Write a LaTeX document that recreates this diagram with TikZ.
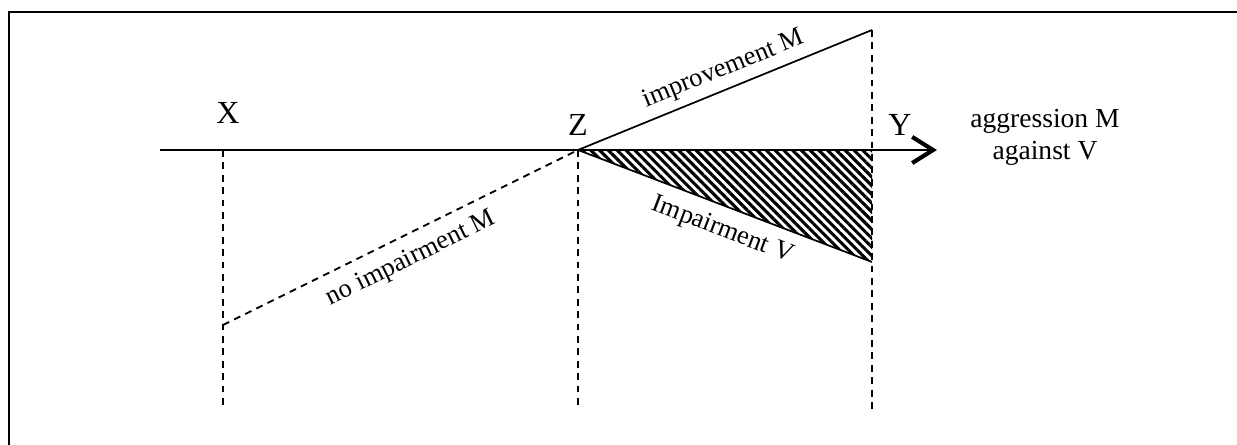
\documentclass[tikz,border=0pt]{standalone}
\usepackage{fontspec}
\setmainfont{Liberation Serif}
\usetikzlibrary{positioning, arrows.meta, patterns.meta}

\begin{document}
\begin{tikzpicture}[
    x=0.0153cm, y=-0.0153cm,
    line width=0.75pt,
    guide/.style={line width=0.8pt, dash pattern=on 3pt off 2.4pt},
    point/.style={font=\fontsize{14}{16}\selectfont, inner sep=0pt},
    txt/.style={font=\fontsize{12}{14}\selectfont, inner sep=3pt},
    slope/.style={font=\fontsize{11.5}{13}\selectfont, sloped}
]
    \useasboundingbox (0,0) rectangle (1237,445);

    % Rahmen
    \draw[line width=0.9pt] (9,445) -- (9,12) -- (1237,12);

    % Punkte
    \coordinate (start) at (160,150);
    \coordinate (end) at (937,150);
    \coordinate (x) at (223,150);
    \coordinate (z) at (578,150);
    \coordinate (y) at (872,150);
    \coordinate (xb) at (223,405);
    \coordinate (zb) at (578,407);
    \coordinate (yt) at (872,30);
    \coordinate (yb) at (872,412);
    \coordinate (imp) at (872,262);
    \coordinate (noimp) at (223,325);

    % Schraffur
    \fill[pattern={Lines[angle=-45, distance=2.7pt, line width=1.35pt]}] (z) -- (y) -- (imp) -- cycle;

    % Achse
    \draw[line width=0.9pt, -{Straight Barb[length=3.2mm, width=4mm, line width=1.8pt]}] (start) -- (end);

    % Senkrechte
    \draw[guide] (x) -- (xb);
    \draw[guide] (z) -- (zb);
    \draw[guide] (yt) -- (yb);

    % Linien
    \draw (z) -- node[slope, above, pos=0.52, inner sep=3pt] {improvement M} (yt);
    \draw (z) -- node[slope, below, pos=0.52, inner sep=5pt] {Impairment V} (imp);
    \draw[guide] (noimp) -- node[slope, below, pos=0.5, inner sep=5pt] {no impairment M} (z);

    % Beschriftung
    \node[point] (lx) at (228,113) {X};
    \node[point] (lz) at (578,125) {Z};
    \node[point] (ly) at (900,125) {Y};
    \node[txt, align=center] (agg) at (1045,137) {aggression M\\against V};
\end{tikzpicture}
\end{document}
